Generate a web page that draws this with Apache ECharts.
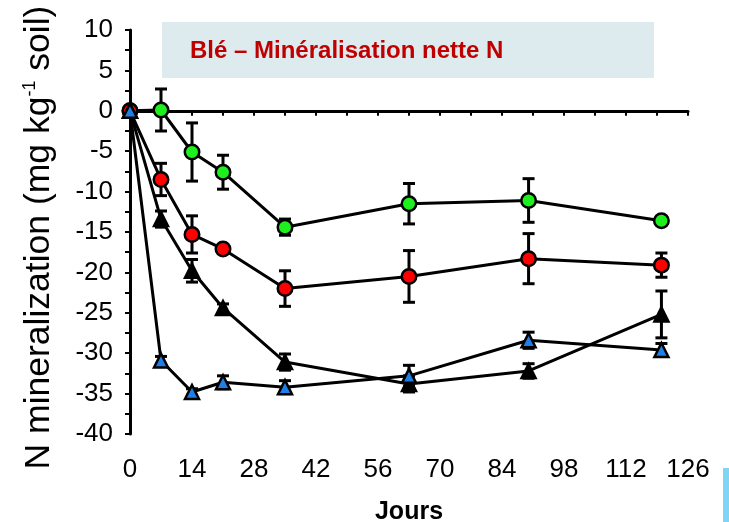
<!DOCTYPE html>
<html>
<head>
<meta charset="utf-8">
<script src="https://cdn.jsdelivr.net/npm/echarts@6/dist/echarts.min.js"></script>
<style>
html,body{margin:0;padding:0;background:#fff;}
#chart{width:729px;height:522px;}
</style>
</head>
<body>
<div id="chart"></div>
<script>
// ---- Data ----
var days = [0, 7, 14, 21, 35, 63, 90, 120];
var greenMean = [0, 0.1, -5.1, -7.6, -14.4, -11.5, -11.1, -13.6];
var greenErr  = [0, 2.6, 3.6, 2.1, 1.0, 2.5, 2.7, 0.3];
var redMean   = [0, -8.5, -15.3, -17.1, -22.0, -20.5, -18.3, -19.1];
var redErr    = [0, 2.0, 2.3, 0.5, 2.2, 3.2, 3.1, 1.5];
var blackMean = [0, -13.4, -19.8, -24.4, -31.1, -33.8, -32.2, -25.2];
var blackErr  = [0, 1.0, 1.4, 0.5, 1.0, 1.0, 0.9, 2.9];
var blueMean  = [0, -30.9, -34.8, -33.6, -34.2, -32.8, -28.4, -29.6];
var blueErr   = [0, 0.5, 0.4, 0.8, 0.8, 1.3, 1.0, 0.8];
var xTicks = [0, 14, 28, 42, 56, 70, 84, 98, 112, 126];
var yTicks = [-40, -35, -30, -25, -20, -15, -10, -5, 0, 5, 10];
var titleText = 'Blé – Minéralisation nette N';
var xName = 'Jours';

var FONT = '"Liberation Sans", Arial, sans-serif';

function pts(mean) { return days.map(function (d, i) { return [d, mean[i]]; }); }
function errs(mean, err) {
  return days.map(function (d, i) { return [d, mean[i] - err[i], mean[i] + err[i]]; })
             .filter(function (r, i) { return err[i] > 0; });
}

function errRender(params, api) {
  var x = api.value(0);
  var lo = api.coord([x, api.value(1)]);
  var hi = api.coord([x, api.value(2)]);
  var hw = 6;
  var st = { stroke: '#000', lineWidth: 3 };
  return {
    type: 'group',
    children: [
      { type: 'line', shape: { x1: lo[0], y1: lo[1], x2: hi[0], y2: hi[1] }, style: st },
      { type: 'line', shape: { x1: lo[0] - hw, y1: lo[1], x2: lo[0] + hw, y2: lo[1] }, style: st },
      { type: 'line', shape: { x1: hi[0] - hw, y1: hi[1], x2: hi[0] + hw, y2: hi[1] }, style: st }
    ]
  };
}

function errSeries(mean, err) {
  return {
    type: 'custom', renderItem: errRender, data: errs(mean, err),
    encode: { x: 0, y: [1, 2] }, z: 1, silent: true, clip: false
  };
}

function lineSeries(mean, symbol, size, color, z) {
  return {
    type: 'line', data: pts(mean), symbol: symbol, symbolSize: size,
    showAllSymbol: true,
    lineStyle: { color: '#000', width: 3 },
    itemStyle: { color: color, borderColor: '#000', borderWidth: 2.5 },
    z: z, animation: false
  };
}

var chart = echarts.init(document.getElementById('chart'), null, { renderer: 'canvas' });
chart.setOption({
  animation: false,
  backgroundColor: '#fff',
  grid: { left: 130, right: 41, top: 30, bottom: 88, containLabel: false, outerBoundsMode: 'none' },
  xAxis: {
    type: 'value', min: xTicks[0], max: xTicks[xTicks.length - 1], interval: 14,
    name: xName, nameLocation: 'middle', nameGap: 66,
    nameTextStyle: { fontFamily: FONT, fontSize: 25, fontWeight: 'bold', color: '#000' },
    axisLine: { lineStyle: { color: '#000', width: 3 } },
    axisTick: { show: true, length: 5, lineStyle: { color: '#000', width: 2 } },
    minorTick: { show: true, splitNumber: 2, length: 5, lineStyle: { color: '#000', width: 2 } },
    axisLabel: { fontFamily: FONT, fontSize: 26, color: '#000', margin: 23 },
    splitLine: { show: false }
  },
  yAxis: {
    type: 'value', min: yTicks[0], max: yTicks[yTicks.length - 1], interval: 5,
    name: '{a|N mineralization (mg kg}{s|-1}{a| soil)}', nameLocation: 'middle', nameGap: 73,
    nameTextStyle: {
      padding: [0, 11, 0, 0],
      rich: {
        a: { fontFamily: FONT, fontSize: 35.5, color: '#000' },
        s: { fontFamily: FONT, fontSize: 18, color: '#000', verticalAlign: 'top' }
      }
    },
    axisLine: { lineStyle: { color: '#000', width: 3 } },
    axisTick: { show: true, length: 5, lineStyle: { color: '#000', width: 2 } },
    minorTick: { show: true, splitNumber: 2, length: 5, lineStyle: { color: '#000', width: 2 } },
    axisLabel: { fontFamily: FONT, fontSize: 26, color: '#000', margin: 17 },
    splitLine: { show: false }
  },
  graphic: [
    { type: 'rect', left: 162, top: 22, shape: { width: 492, height: 56 }, style: { fill: '#DDEAEE' }, z: 0 },
    { type: 'text', left: 190, top: 39, style: { text: titleText, fontFamily: FONT, fontSize: 24, fontWeight: 'bold', fill: '#C00000' }, z: 1 },
    { type: 'rect', left: 723, top: 468, shape: { width: 6, height: 54 }, style: { fill: '#80D4F6' }, z: 0 }
  ],
  series: [
    errSeries(greenMean, greenErr),
    errSeries(redMean, redErr),
    errSeries(blackMean, blackErr),
    errSeries(blueMean, blueErr),
    lineSeries(greenMean, 'circle', 14.5, '#1EF01E', 3),
    lineSeries(redMean, 'circle', 14.5, '#FF0000', 3),
    lineSeries(blackMean, 'triangle', 14, '#000000', 4),
    lineSeries(blueMean, 'triangle', 14, '#1E7FE6', 5)
  ]
});
</script>
</body>
</html>
